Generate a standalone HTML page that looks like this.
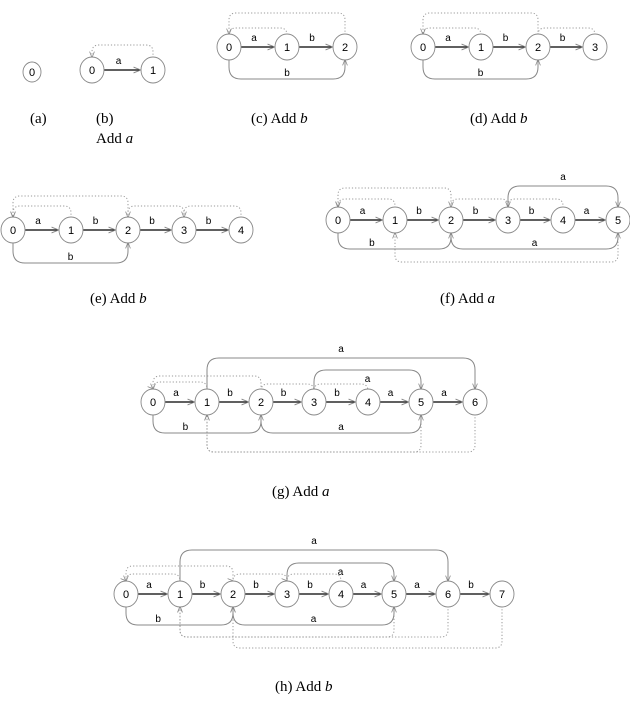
<!DOCTYPE html>
<html><head><meta charset="utf-8"><style>
html,body{margin:0;padding:0;background:#fff;}
svg{display:block;}
.nd{fill:#fff;stroke:#888;stroke-width:0.9;}
.nt{font-family:"Liberation Sans",sans-serif;font-size:11px;text-anchor:middle;fill:#000;}
.el{font-family:"Liberation Sans",sans-serif;font-size:10px;text-anchor:middle;fill:#000;}
.cap{font-family:"Liberation Serif",serif;font-size:15px;fill:#000;}
.s{stroke:#000;stroke-width:1.2;fill:none;}
.c{stroke:#888;stroke-width:1;fill:none;}
.d{stroke:#999;stroke-width:1;fill:none;stroke-dasharray:1.2,2;}
</style></head><body>
<svg id="root" width="630" height="704" viewBox="0 0 630 704" xmlns="http://www.w3.org/2000/svg">
<defs>
<marker id="ah" viewBox="0 0 10 10" refX="9" refY="5" markerWidth="6" markerHeight="6" orient="auto"><path d="M0,1 L10,5 L0,9" fill="none" stroke="#888" stroke-width="1.3"/></marker>
</defs>
<text class="cap" x="30" y="123">(a)</text>
<text class="cap" x="96" y="123">(b)</text>
<text class="cap" x="96" y="143">Add <tspan font-style="italic">a</tspan></text>
<text class="cap" x="251" y="123">(c) Add <tspan font-style="italic">b</tspan></text>
<text class="cap" x="470" y="123">(d) Add <tspan font-style="italic">b</tspan></text>
<text class="cap" x="90" y="303">(e) Add <tspan font-style="italic">b</tspan></text>
<text class="cap" x="440" y="303">(f) Add <tspan font-style="italic">a</tspan></text>
<text class="cap" x="272" y="496">(g) Add <tspan font-style="italic">a</tspan></text>
<text class="cap" x="275" y="691">(h) Add <tspan font-style="italic">b</tspan></text>
</svg>
<script>
const NS="http://www.w3.org/2000/svg";
const root=document.getElementById('root');
// edges: [from,to,label,type,level,labelFraction,labelDy]
const figA={id:'a',xs:[32],y:72,r:9,edges:[],links:[]};
const figB={id:'b',xs:[92,153],y:70,r:12,edges:[[0,1,'a','s']],links:[[1,0,'t',45]]};
const figC={id:'c',xs:[229,287,345],y:47,r:12,edges:[[0,1,'a','s'],[1,2,'b','s'],[0,2,'b','u',79,0.5,-3]],links:[[1,0,'t',28],[2,0,'t',13]]};
const figD={id:'d',xs:[423,481,538,595],y:47,r:12,edges:[[0,1,'a','s'],[1,2,'b','s'],[2,3,'b','s'],[0,2,'b','u',79,0.5,-3]],links:[[1,0,'t',28],[2,0,'t',13],[3,2,'t',28]]};
const figE={id:'e',xs:[13,71,128,184,241],y:230,r:12,edges:[[0,1,'a','s'],[1,2,'b','s'],[2,3,'b','s'],[3,4,'b','s'],[0,2,'b','u',263,0.5,-3]],links:[[1,0,'t',206],[2,0,'t',196],[3,2,'t',206],[4,3,'t',206]]};
const figF={id:'f',xs:[338,395,451,508,563,618],y:220,r:12,edges:[[0,1,'a','s'],[1,2,'b','s'],[2,3,'b','s'],[3,4,'b','s'],[4,5,'a','s'],[0,2,'b','u',249,0.3,-3],[2,5,'a','u',249,0.5,-3],[3,5,'a','o',186,0.5,-6]],links:[[1,0,'t',199],[2,0,'t',188],[3,2,'t',199],[4,3,'t',199],[5,1,'b',262]]};
const figG={id:'g',xs:[153,207,261,314,368,421,475],y:402,r:12,edges:[[0,1,'a','s'],[1,2,'b','s'],[2,3,'b','s'],[3,4,'b','s'],[4,5,'a','s'],[5,6,'a','s'],[0,2,'b','u',433,0.3,-3],[2,5,'a','u',433,0.5,-3],[1,6,'a','o',358,0.5,-6],[3,5,'a','o',370,0.5,12]],links:[[1,0,'t',382],[2,0,'t',376],[3,2,'t',384],[4,3,'t',384],[5,1,'b',452],[6,1,'b',452]]};
const figH={id:'h',xs:[126,180,233,287,341,394,448,502],y:594,r:12,edges:[[0,1,'a','s'],[1,2,'b','s'],[2,3,'b','s'],[3,4,'b','s'],[4,5,'a','s'],[5,6,'a','s'],[6,7,'b','s'],[0,2,'b','u',625,0.3,-3],[2,5,'a','u',625,0.5,-3],[1,6,'a','o',550,0.5,-6],[3,5,'a','o',563,0.5,12]],links:[[1,0,'t',574],[2,0,'t',566],[3,2,'t',574],[4,3,'t',574],[5,1,'b',637],[6,1,'b',637],[7,2,'b',648]]};
const figs=[figA,figB,figC,figD,figE,figF,figG,figH];

function bracket(x1,x2,y0,y1,L,rc){
  const s=L<y0?-1:1, d=x2>x1?1:-1;
  return `M${x1},${y0} L${x1},${L-s*rc} Q${x1},${L} ${x1+d*rc},${L} L${x2-d*rc},${L} Q${x2},${L} ${x2},${L-s*rc} L${x2},${y1}`;
}
function mk(tag,attrs){const e=document.createElementNS(NS,tag);for(const k in attrs)e.setAttribute(k,attrs[k]);root.appendChild(e);return e;}

figs.forEach(f=>{
  const y=f.y,r=f.r;
  f.links.forEach(l=>{
    const x1=f.xs[l[0]],x2=f.xs[l[1]];
    const top=l[2]==='t';
    const y0=top?y-r:y+r;
    const p=mk('path',{d:bracket(x1,x2,y0,y0+(top?-1:1),l[3],7),class:'d','marker-end':'url(#ah)'});
    
    
  });
  f.edges.forEach(e=>{
    const x1=f.xs[e[0]],x2=f.xs[e[1]];
    let p,tx,ty;
    if(e[3]==='s'){
      p=mk('path',{d:`M${x1+r},${y} L${x2-r-1},${y}`,class:'s','marker-end':'url(#ah)'});
      tx=(x1+x2)/2-4;ty=y-6;
    }else{
      const yy=e[3]==='u'?y+r:y-r;
      p=mk('path',{d:bracket(x1,x2,yy,yy+(e[3]==='u'?1:-1),e[4],12),class:'c','marker-end':'url(#ah)'});
      tx=x1+(x2-x1)*e[5];ty=e[4]+e[6];
    }
    
    
    const t=mk('text',{x:tx,y:ty,class:'el'});t.textContent=e[2];
    
    
  });
  f.xs.forEach((x,i)=>{
    const c=mk('ellipse',{cx:x,cy:y,rx:r,ry:r+1,class:'nd'});
    
    
    const t=mk('text',{x:x,y:y+4,class:'nt','font-size':r<10?9:11});t.textContent=i;
    
    
  });
});
</script>
</body></html>
